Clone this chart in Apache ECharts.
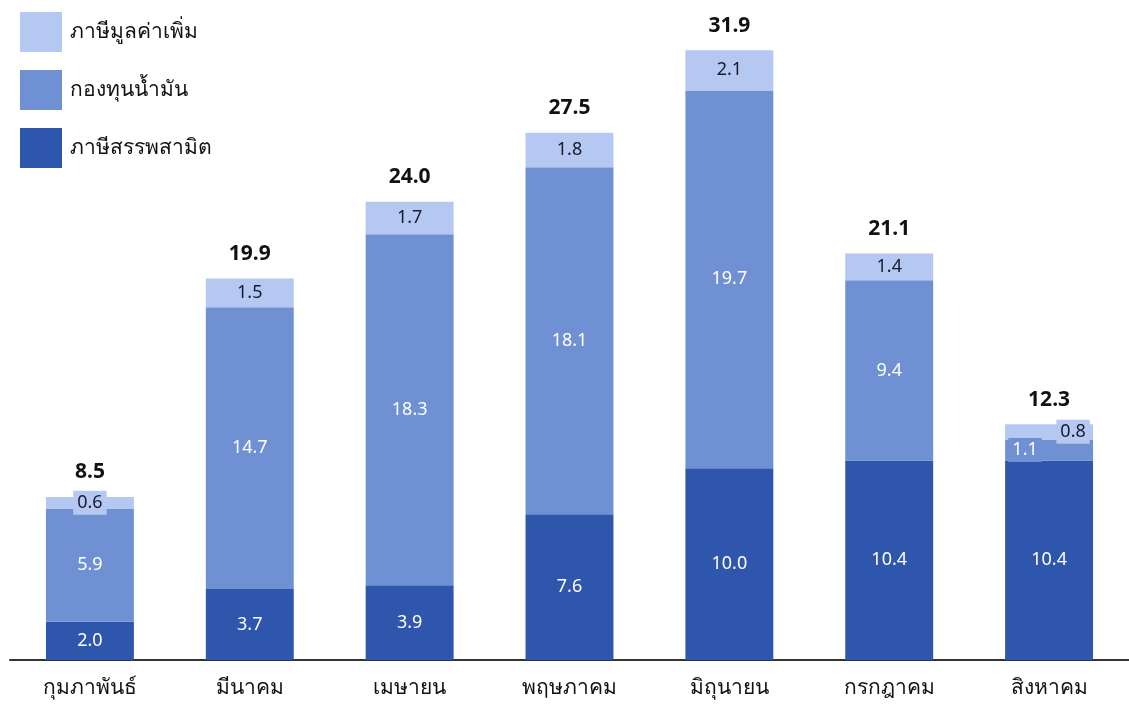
<!DOCTYPE html>
<html><head><meta charset="utf-8">
<script src="https://cdn.jsdelivr.net/npm/echarts@6/dist/echarts.min.js"></script>
<style>html,body{margin:0;padding:0;background:#fff}#c{width:1129px;height:710px}</style>
</head><body><div id="c"></div>
<script>
const categories = ['กุมภาพันธ์','มีนาคม','เมษายน','พฤษภาคม','มิถุนายน','กรกฎาคม','สิงหาคม'];
const seriesNames = ['ภาษีมูลค่าเพิ่ม','กองทุนน้ำมัน','ภาษีสรรพสามิต'];
const exciseTax = [2.0, 3.7, 3.9, 7.6, 10.0, 10.4, 10.4];
const oilFund = [5.9, 14.7, 18.3, 18.1, 19.7, 9.4, 1.1];
const vat = [0.6, 1.5, 1.7, 1.8, 2.1, 1.4, 0.8];
const totals = ['8.5','19.9','24.0','27.5','31.9','21.1','12.3'];

const FONT = 'Tahoma, "Noto Sans", "DejaVu Sans", sans-serif';
const cLight = '#b4c8f1', cMid = '#6f91d3', cDark = '#2f56ad';

function labelled(values, offsets) {
  return values.map((v, i) => {
    const d = { value: v };
    const off = offsets && offsets[i];
    if (off) d.label = { offset: off };
    return d;
  });
}
const fmt = p => Number(p.value).toFixed(1);

const chart = echarts.init(document.getElementById('c'));
chart.setOption({
  animation: false,
  textStyle: { fontFamily: FONT },
  legend: {
    data: [seriesNames[0], seriesNames[1], seriesNames[2]],
    orient: 'vertical', left: 15, top: 7,
    itemWidth: 42, itemHeight: 40, itemGap: 18,
    icon: 'rect',
    textStyle: { fontSize: 21, color: '#111', fontFamily: FONT, padding: [0,0,0,3] }
  },
  grid: { left: 10, width: 1123, top: 8, bottom: 50 },
  xAxis: {
    type: 'category', data: categories,
    axisLine: { lineStyle: { color: '#333', width: 2 } },
    axisTick: { show: false },
    axisLabel: { fontSize: 21, color: '#111', margin: 18, fontFamily: FONT }
  },
  yAxis: { type: 'value', min: 0, max: 34, show: false, splitLine: { show: false } },
  series: [
    {
      name: seriesNames[2], type: 'bar', stack: 't', barWidth: '55%',
      itemStyle: { color: cDark },
      label: { show: true, position: 'inside', color: '#fff', fontSize: 18, fontFamily: FONT, formatter: fmt },
      data: labelled(exciseTax)
    },
    {
      name: seriesNames[1], type: 'bar', stack: 't',
      itemStyle: { color: cMid },
      label: { show: true, position: 'inside', color: '#fff', fontSize: 18, fontFamily: FONT, formatter: fmt,
               backgroundColor: cMid, padding: [3, 4] },
      data: labelled(oilFund, [null,null,null,null,null,null,[-24,0]])
    },
    {
      name: seriesNames[0], type: 'bar', stack: 't',
      itemStyle: { color: cLight },
      label: { show: true, position: 'inside', color: '#1a1a2e', fontSize: 18, fontFamily: FONT, formatter: fmt,
               backgroundColor: cLight, padding: [3, 4] },
      data: labelled(vat, [null,null,null,null,null,null,[24,0]])
    },
    {
      name: 'total', type: 'bar', stack: 't',
      itemStyle: { color: 'transparent' },
      label: { show: true, position: 'top', distance: 14, color: '#111', fontSize: 21,
               fontWeight: 'bold', fontFamily: FONT,
               formatter: p => totals[p.dataIndex] },
      data: totals.map(() => 0)
    }
  ]
});
</script></body></html>
